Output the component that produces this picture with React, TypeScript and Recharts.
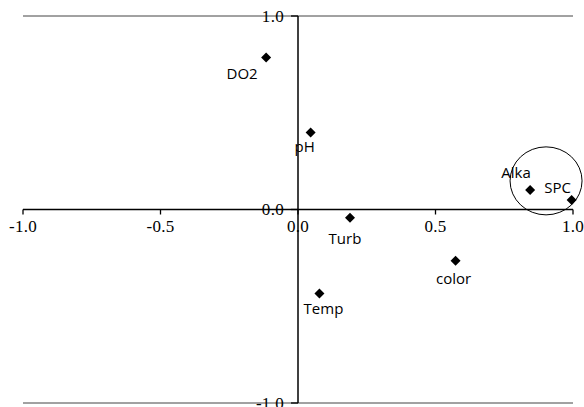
import React from 'react';
import { ScatterChart, Scatter, XAxis, YAxis, ReferenceLine, ReferenceDot } from 'recharts';

const names = ['DO2', 'pH', 'Turb', 'Alka', 'SPC', 'color', 'Temp'];
const xValues = [-0.116, 0.046, 0.189, 0.844, 0.995, 0.573, 0.078];
const yValues = [0.785, 0.398, -0.042, 0.101, 0.049, -0.265, -0.434];

const xTicks = [-1, -0.5, 0, 0.5, 1];
const yTicks = [-1, 0, 1];
const xTickLabels = ['-1.0', '-0.5', '0.0', '0.5', '1.0'];
const yTickLabels = ['-1.0', '0.0', '1.0'];

// highlighted cluster (Alka / SPC)
const clusterCenter = { x: 0.902, y: 0.148 };

const data = names.map((n, i) => ({ name: n, x: xValues[i], y: yValues[i] }));

const labelOffsets: Record<string, [number, number]> = {
  DO2: [-24, 15],
  pH: [-6, 14],
  Turb: [-5, 20],
  Alka: [-14, -18],
  SPC: [-14, -13],
  color: [-2, 17],
  Temp: [4, 15],
};

const sans = '"Open Sans", "DejaVu Sans", sans-serif';
const serif = '"Liberation Serif", "Times New Roman", serif';

const DiamondShape = (props: any) => {
  const { cx, cy, payload } = props;
  const s = 5;
  const off = labelOffsets[payload.name] || [0, 15];
  return (
    <g>
      <polygon
        points={`${cx},${cy - s} ${cx + s},${cy} ${cx},${cy + s} ${cx - s},${cy}`}
        fill="#000"
      />
      <text
        x={cx + off[0]}
        y={cy + off[1]}
        textAnchor="middle"
        dominantBaseline="central"
        fontFamily={sans}
        fontSize={15}
        fill="#000"
      >
        {payload.name}
      </text>
    </g>
  );
};

const makeXTick = (label: string) => (props: any) => {
  const { cx, cy } = props;
  return (
    <g>
      <line x1={cx} y1={cy} x2={cx} y2={cy + 5} stroke="#000" strokeWidth={1.3} />
      <text
        x={cx}
        y={cy + 17}
        textAnchor="middle"
        dominantBaseline="central"
        fontFamily={serif}
        fontSize={17}
        letterSpacing={0.3}
        fill="#000"
      >
        {label}
      </text>
    </g>
  );
};

const makeYTick = (label: string) => (props: any) => {
  const { cx, cy } = props;
  return (
    <g>
      <line x1={cx - 7} y1={cy} x2={cx} y2={cy} stroke="#000" strokeWidth={1.3} />
      <text
        x={cx - 14}
        y={cy}
        textAnchor="end"
        dominantBaseline="central"
        fontFamily={serif}
        fontSize={17}
        letterSpacing={0.3}
        fill="#000"
      >
        {label}
      </text>
    </g>
  );
};

const EllipseShape = (props: any) => {
  const { cx, cy } = props;
  return <ellipse cx={cx} cy={cy} rx={36} ry={34} fill="none" stroke="#000" strokeWidth={1} />;
};

export default function App() {
  return (
    <div style={{ position: 'absolute', left: 0, top: 0, width: 584, height: 407, background: '#fff' }}>
      <ScatterChart width={584} height={407} margin={{ top: 16, right: 11, bottom: 4, left: 23 }}>
        <XAxis type="number" dataKey="x" domain={[-1, 1]} hide />
        <YAxis type="number" dataKey="y" domain={[-1, 1]} hide />
        <ReferenceLine y={1} stroke="#444" strokeWidth={1} />
        <ReferenceLine y={-1} stroke="#444" strokeWidth={1} />
        <ReferenceLine y={0} stroke="#000" strokeWidth={1.5} />
        <ReferenceLine x={0} stroke="#000" strokeWidth={1.5} />
        {xTicks.map((t, i) => (
          <ReferenceDot key={'xt' + i} x={t} y={0} ifOverflow="visible" shape={makeXTick(xTickLabels[i])} />
        ))}
        {yTicks.map((t, i) => (
          <ReferenceDot key={'yt' + i} x={0} y={t} ifOverflow="visible" shape={makeYTick(yTickLabels[i])} />
        ))}
        <ReferenceDot x={clusterCenter.x} y={clusterCenter.y} ifOverflow="visible" shape={EllipseShape} />
        <Scatter data={data} shape={DiamondShape} isAnimationActive={false} />
      </ScatterChart>
    </div>
  );
}
